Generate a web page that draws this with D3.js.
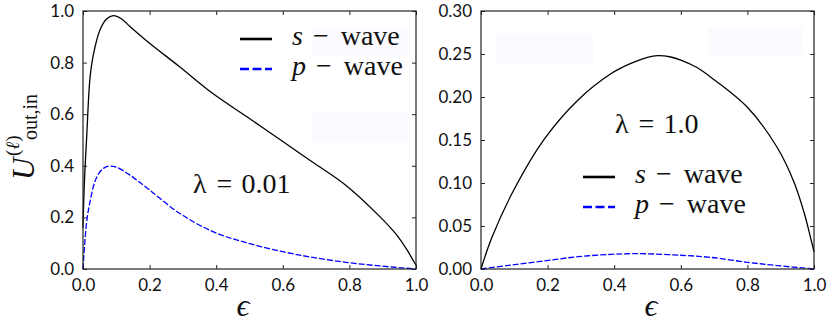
<!DOCTYPE html>
<html lang="en">

<head>
    <meta charset="UTF-8">
    <title>U out,in vs epsilon</title>
    <script src="https://d3js.org/d3.v7.min.js"></script>
    <style>
        body { margin: 0; background: #fff; }
    </style>
</head>

<body>
    <svg width="830" height="323"></svg>

    <script>
        // lambda = 0.01 panel
        const sEpsA = [0, 0.004, 0.011, 0.021, 0.031, 0.051, 0.07, 0.091, 0.115, 0.141, 0.2, 0.29, 0.39, 0.49, 0.6, 0.69, 0.79, 0.89, 0.94, 0.975, 0.993, 1.0];
        const sValA = [0.16, 0.33, 0.51, 0.74, 0.83, 0.926, 0.968, 0.982, 0.97, 0.94, 0.875, 0.784, 0.68, 0.592, 0.494, 0.414, 0.324, 0.205, 0.135, 0.07, 0.03, 0.015];
        const pEpsA = [0, 0.011, 0.021, 0.036, 0.051, 0.065, 0.081, 0.1, 0.141, 0.2, 0.29, 0.39, 0.49, 0.6, 0.69, 0.79, 0.89, 1.0];
        const pValA = [0, 0.183, 0.26, 0.34, 0.377, 0.393, 0.399, 0.395, 0.364, 0.306, 0.216, 0.145, 0.102, 0.067, 0.045, 0.026, 0.012, 0.0];

        // lambda = 1.0 panel
        const sEpsB = [0, 0.032, 0.1, 0.19, 0.29, 0.39, 0.45, 0.5, 0.53, 0.57, 0.6, 0.65, 0.69, 0.8, 0.89, 0.94, 0.97, 0.99, 1.0];
        const sValB = [0, 0.036, 0.093, 0.151, 0.196, 0.227, 0.239, 0.246, 0.248, 0.2465, 0.243, 0.234, 0.223, 0.188, 0.141, 0.101, 0.066, 0.036, 0.02];
        const pEpsB = [0, 0.09, 0.19, 0.29, 0.39, 0.45, 0.5, 0.6, 0.69, 0.8, 0.89, 1.0];
        const pValB = [0, 0.0046, 0.0093, 0.0143, 0.017, 0.0178, 0.0177, 0.016, 0.0135, 0.0078, 0.004, 0];

        const xTicks = [0, 0.2, 0.4, 0.6, 0.8, 1.0];
        const yTicksA = [0, 0.2, 0.4, 0.6, 0.8, 1.0];
        const yTicksB = [0, 0.05, 0.10, 0.15, 0.20, 0.25, 0.30];
        const seriesNames = ["s", "p"];
        const lambdaLabels = ["0.01", "1.0"];

        const svg = d3.select("svg");
        const serif = "'Liberation Serif'";

        // writes pieces of math-ish text one after the other, no tspans
        function mathText(parent, x0, y0, pieces, size) {
            let cx = x0;
            pieces.forEach(function (p) {
                cx += p.gap || 0;
                const t = parent.append("text")
                    .attr("x", cx).attr("y", y0)
                    .style("font-family", serif)
                    .style("font-size", size + "px")
                    .style("font-style", p.italic ? "italic" : "normal")
                    .style("fill", "#111")
                    .text(p.t);
                cx += t.node().getComputedTextLength();
            });
        }

        const panels = [
            {
                left: 83, right: 416, yMax: 1.0, yTicks: yTicksA, yFmt: d3.format(".1f"),
                s: [sEpsA, sValA], p: [pEpsA, pValA], lambda: lambdaLabels[0],
                legend: { x: 240, y: 39 }, lam: { x: 193, y: 193 }, xlab: 243,
                ghosts: [[312, 27, 96, 28], [312, 113, 96, 29]]
            },
            {
                left: 481, right: 814, yMax: 0.30, yTicks: yTicksB, yFmt: d3.format(".2f"),
                s: [sEpsB, sValB], p: [pEpsB, pValB], lambda: lambdaLabels[1],
                legend: { x: 583, y: 177 }, lam: { x: 615, y: 133 }, xlab: 651,
                ghosts: [[496, 34, 97, 30], [708, 27, 95, 28]]
            }
        ];
        const plotTop = 11, plotBottom = 269, tickLen = 4;

        panels.forEach(function (pn) {
            const x = d3.scaleLinear().domain([0, 1]).range([pn.left, pn.right]);
            const y = d3.scaleLinear().domain([0, pn.yMax]).range([plotBottom, plotTop]);
            const g = svg.append("g");

            // faint leftover legend boxes in the original figure
            g.selectAll("rect.ghost").data(pn.ghosts).enter().append("rect")
                .attr("x", d => d[0]).attr("y", d => d[1])
                .attr("width", d => d[2]).attr("height", d => d[3])
                .attr("fill", "#fbfbff");

            g.append("g").attr("transform", `translate(0,${plotBottom})`)
                .call(d3.axisBottom(x).tickValues(xTicks).tickFormat(d3.format(".1f"))
                    .tickSizeInner(-tickLen).tickSizeOuter(0).tickPadding(10))
                .call(a => a.select(".domain").remove());
            g.append("g").attr("transform", `translate(0,${plotTop})`)
                .call(d3.axisTop(x).tickValues(xTicks).tickFormat("")
                    .tickSizeInner(-tickLen).tickSizeOuter(0))
                .call(a => a.select(".domain").remove());
            g.append("g").attr("transform", `translate(${pn.left},0)`)
                .call(d3.axisLeft(y).tickValues(pn.yTicks).tickFormat(pn.yFmt)
                    .tickSizeInner(-tickLen).tickSizeOuter(0).tickPadding(9))
                .call(a => a.select(".domain").remove());
            g.append("g").attr("transform", `translate(${pn.right},0)`)
                .call(d3.axisRight(y).tickValues(pn.yTicks).tickFormat("")
                    .tickSizeInner(-tickLen).tickSizeOuter(0))
                .call(a => a.select(".domain").remove());
            g.selectAll(".tick line").attr("stroke", "#222");
            g.selectAll(".tick text")
                .style("font-family", "Lato")
                .style("font-size", "17px")
                .style("fill", "#111");

            const line = d3.line().x(d => x(d[0])).y(d => y(d[1])).curve(d3.curveCatmullRom.alpha(0.5));
            const zip = pair => pair[0].map((e, i) => [e, pair[1][i]]);

            g.append("path").datum(zip(pn.p)).attr("d", line)
                .attr("fill", "none").attr("stroke", "#0000ff")
                .attr("stroke-width", 1.3).attr("stroke-dasharray", "6,2");
            g.append("path").datum(zip(pn.s)).attr("d", line)
                .attr("fill", "none").attr("stroke", "#000")
                .attr("stroke-width", 1.3);

            g.append("rect").attr("x", pn.left).attr("y", plotTop)
                .attr("width", pn.right - pn.left).attr("height", plotBottom - plotTop)
                .attr("fill", "none").attr("stroke", "#222").attr("stroke-width", 1.2);

            // legend
            seriesNames.forEach(function (name, i) {
                const ly = pn.legend.y + i * 30;
                g.append("line")
                    .attr("x1", pn.legend.x).attr("x2", pn.legend.x + 32)
                    .attr("y1", ly).attr("y2", ly)
                    .attr("stroke", i === 0 ? "#000" : "#0000ff")
                    .attr("stroke-width", 2.6)
                    .attr("stroke-dasharray", i === 0 ? null : "9,3.5");
                mathText(g, pn.legend.x + 52, ly + 6, [
                    { t: name, italic: true },
                    { t: "\u2212", gap: 10 },
                    { t: "wave", gap: 12 }
                ], 28);
            });

            // lambda annotation
            mathText(g, pn.lam.x, pn.lam.y, [
                { t: "\u03bb" },
                { t: "=", gap: 10 },
                { t: pn.lambda, gap: 9 }
            ], 28);

            // x label
            g.append("text")
                .attr("x", pn.xlab).attr("y", 316)
                .attr("text-anchor", "middle")
                .style("font-family", serif)
                .style("font-style", "italic")
                .style("font-size", "32px").style("fill", "#111")
                .text("\u03f5");
        });

        // y label of the left panel
        const yl = svg.append("g").attr("transform", "translate(34,180) rotate(-90)");
        mathText(yl, 0, 0, [{ t: "U", italic: true }], 31);
        mathText(yl, 24, -15, [{ t: "(" }, { t: "\u2113", italic: true }, { t: ")" }], 19);
        mathText(yl, 40, 3, [{ t: "out,in" }], 20);
    </script>
</body>

</html>
